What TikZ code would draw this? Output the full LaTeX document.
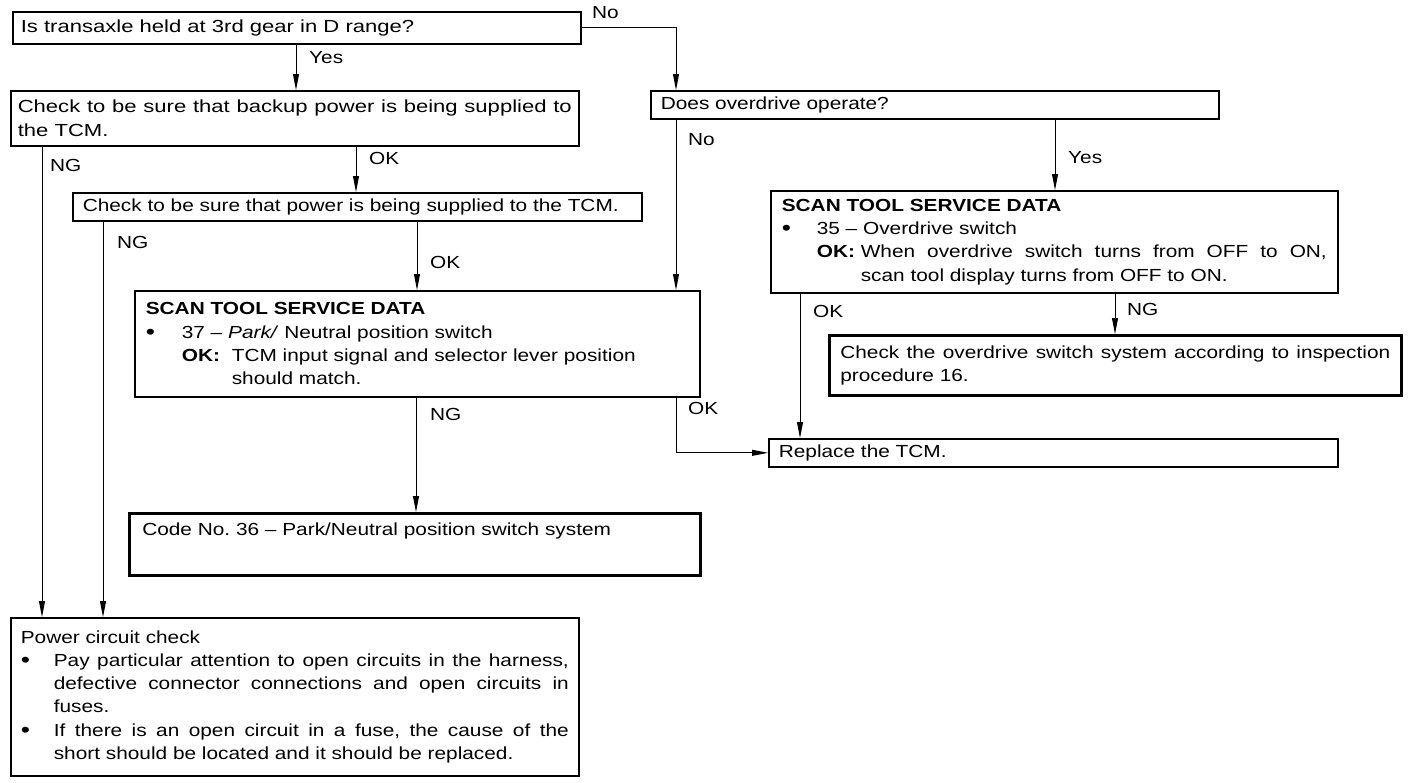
\documentclass[tikz,border=0pt]{standalone}
\usepackage{fontspec}
\setmainfont{Liberation Sans}[FakeStretch=1.19]
\usetikzlibrary{arrows.meta,calc}
\newcommand{\fsz}{\fontsize{17.5}{23.3}\selectfont\frenchspacing}
\newcommand{\wider}{\addfontfeature{FakeStretch=1.26}}
\newcommand{\bul}{\raisebox{-1pt}{\fontsize{22}{22}\selectfont\textbullet}}
\newcommand{\hbit}[2]{\par\noindent\hangindent=#1\hangafter=1\makebox[#1][l]{\bul}#2\par}
\begin{document}
\begin{tikzpicture}[x=1pt,y=-1pt,
  every node/.style={font=\fsz},
  box/.style={draw, line width=1.6pt, anchor=north west, align=justify, inner xsep=10pt, inner ysep=4pt},
  thickbox/.style={box, line width=2.6pt},
  arr/.style={line width=0.9pt, -{Triangle[length=16pt,width=6pt]}},
  lab/.style={anchor=west, inner sep=0pt}]
\useasboundingbox (0,0) rectangle (1408,782);
% boxes
\node[box, minimum width=568pt, minimum height=32pt, text width=552pt, inner xsep=8pt] (b1) at (12,11)
  {\wider Is transaxle held at 3rd gear in D range?};
\node[box, minimum width=568pt, minimum height=55pt, text width=554pt, inner xsep=7pt] (b2) at (10,90)
  {\wider Check to be sure that backup power is being supplied to\linebreak the TCM.};
\node[box, minimum width=568pt, minimum height=28pt, text width=548pt] (od) at (650,90)
  {Does overdrive operate?};
\node[box, minimum width=569pt, minimum height=28pt, text width=549pt] (b3) at (72,192)
  {Check to be sure that power is being supplied to the TCM.};
\node[box, minimum width=565pt, minimum height=106pt, text width=543pt, inner xsep=11pt] (b4) at (134,290)
  {\textbf{SCAN TOOL SERVICE DATA}
   \hbit{36pt}{37 -- \textit{Park/} Neutral position switch}
   \noindent\hangindent=86pt\hangafter=1\hspace*{36pt}\makebox[50pt][l]{\textbf{OK:}}TCM input signal and selector lever position\\should match.\par};
\node[box, minimum width=567pt, minimum height=102pt, text width=545pt, inner xsep=11pt] (b5) at (770,190)
  {\textbf{SCAN TOOL SERVICE DATA}
   \hbit{35pt}{35 -- Overdrive switch}
   \noindent\hangindent=79pt\hangafter=1\hspace*{35pt}\makebox[44pt][l]{\textbf{OK:}}When overdrive switch turns from OFF to ON,\linebreak scan tool display turns from OFF to ON.\par};
\node[thickbox, minimum width=572pt, minimum height=60pt, text width=550pt, inner xsep=11pt] (b7) at (828,334)
  {Check the overdrive switch system according to inspection\linebreak procedure 16.};
\node[box, minimum width=569pt, minimum height=28pt, text width=549pt] (rep) at (768,438)
  {Replace the TCM.};
\node[thickbox, minimum width=571pt, minimum height=62pt, text width=545pt, inner xsep=13pt] (b6) at (128,512)
  {Code No. 36 -- Park/Neutral position switch system\\\strut};
\node[box, minimum width=568pt, minimum height=158pt, text width=548pt] (pw) at (10,617)
  {Power circuit check
   \hbit{33pt}{Pay particular attention to open circuits in the harness,\linebreak defective connector connections and open circuits in\linebreak fuses.}
   \hbit{33pt}{If there is an open circuit in a fuse, the cause of the\linebreak short should be located and it should be replaced.}};
% connectors
\draw[arr] (b1.east) -| (676,0 |- od.north);
\node[lab] (lno1) at (592,13) {No};
\draw[arr] (296,0 |- b1.south) -- (296,0 |- b2.north);
\node[lab] (lyes1) at (309,58) {Yes};
\draw[arr] (42,0 |- b2.south) -- (42,0 |- pw.north);
\node[lab] (lng1) at (50,165) {NG};
\draw[arr] (356,0 |- b2.south) -- (356,0 |- b3.north);
\node[lab] (lok1) at (369,158) {OK};
\draw[arr] (103,0 |- b3.south) -- (103,0 |- pw.north);
\node[lab] (lng2) at (117,242) {NG};
\draw[arr] (417,0 |- b3.south) -- (417,0 |- b4.north);
\node[lab] (lok2) at (430,262) {OK};
\draw[arr] (676,0 |- od.south) -- (676,0 |- b4.north);
\node[lab] (lno2) at (688,140) {No};
\draw[arr] (1055,0 |- od.south) -- (1055,0 |- b5.north);
\node[lab] (lyes2) at (1068,158) {Yes};
\draw[arr] (416,0 |- b4.south) -- (416,0 |- b6.north);
\node[lab] (lng3) at (430,414) {NG};
\draw[arr] (676,0 |- b4.south) |- (rep.west);
\node[lab] (lok3) at (688,408) {OK};
\draw[arr] (800,0 |- b5.south) -- (800,0 |- rep.north);
\node[lab] (lok4) at (813,311) {OK};
\draw[arr] (1115,0 |- b5.south) -- (1115,0 |- b7.north);
\node[lab] (lng4) at (1127,309) {NG};
\end{tikzpicture}
\end{document}
